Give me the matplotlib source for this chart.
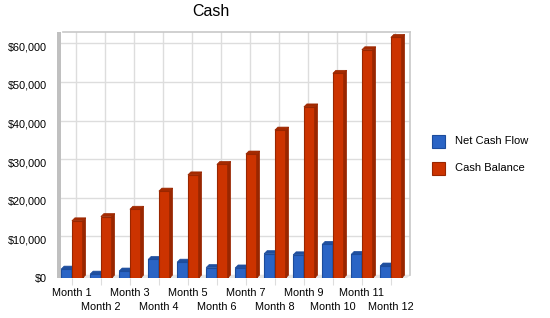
import matplotlib
matplotlib.use("Agg")
import matplotlib.pyplot as plt
from matplotlib.patches import Polygon, Rectangle
from matplotlib.ticker import FuncFormatter

months = ["Month 1", "Month 2", "Month 3", "Month 4", "Month 5", "Month 6",
          "Month 7", "Month 8", "Month 9", "Month 10", "Month 11", "Month 12"]
net_cash_flow = [2300, 1000, 1800, 4800, 4100, 2700, 2600, 6300, 6000, 8700, 6100, 3100]
cash_balance = [14800, 15900, 17800, 22500, 26700, 29400, 32100, 38300, 44300, 53000, 59100, 62300]
yticks = [0, 10000, 20000, 30000, 40000, 50000, 60000]
series_names = ["Net Cash Flow", "Cash Balance"]

plt.rcParams['font.family'] = ['Liberation Sans', 'DejaVu Sans']

W, H = 550, 318
fig = plt.figure(figsize=(W / 100, H / 100), dpi=100)
ax = fig.add_axes([60 / W, 40 / H, 350 / W, 246 / H])

x0, x1 = -0.41, 11.66
y0, y1 = 0, 63700
ax.set_xlim(x0, x1)
ax.set_ylim(y0, y1)

px_x = (x1 - x0) / 350.0
px_y = (y1 - y0) / 246.0
dx, dy = 3 * px_x, 3 * px_y

# grid on back wall (offset)
for v in yticks:
    ax.plot([x0, x1], [v + dy, v + dy], color="#dddddd", lw=1, zorder=0.5)
for i in range(len(months)):
    ax.plot([i + dx * 1.3, i + dx * 1.3], [dy, y1], color="#dddddd", lw=1, zorder=0.5)

# floor
ax.add_patch(Polygon([[x0, 0], [x1 - dx, 0], [x1, dy], [x0 + dx, dy]],
                     closed=True, facecolor="#e6e6e6", edgecolor="none", zorder=0.6))

bw = 0.37
colors = [("#2a64c5", "#1c4c9c", "#1f4f9f"), ("#cc3300", "#992600", "#a52a00")]
for s, (vals, (fc, sc, tc)) in enumerate(zip([net_cash_flow, cash_balance], colors)):
    for i, v in enumerate(vals):
        left = i - bw + s * bw
        right = left + bw
        z = 2 + i * 0.01 + s * 0.001
        ax.add_patch(Rectangle((left, 0), bw, v, facecolor=fc, edgecolor=sc,
                               lw=0.8, zorder=z))
        ax.add_patch(Polygon([[right, 0], [right + dx, dy], [right + dx, v + dy], [right, v]],
                             closed=True, facecolor=sc, edgecolor=sc, lw=0.5, zorder=z))
        ax.add_patch(Polygon([[left, v], [left + dx, v + dy], [right + dx, v + dy], [right, v]],
                             closed=True, facecolor=tc, edgecolor=sc, lw=0.5, zorder=z))

for sp in ax.spines.values():
    sp.set_visible(False)
# top and right border
ax.plot([x0 + dx, x1], [y1, y1], color="#c8c8c8", lw=1.2, zorder=1, clip_on=False)
ax.plot([x1, x1], [dy, y1], color="#c8c8c8", lw=1.2, zorder=1, clip_on=False)
# left grey wall
ax.add_patch(Rectangle((x0 - 3 * px_x, 0), 4 * px_x, y1, facecolor="#c0c0c0",
                       edgecolor="none", zorder=1, clip_on=False))

ax.set_yticks(yticks)
ax.yaxis.set_major_formatter(FuncFormatter(lambda v, p: "${:,.0f}".format(v)))
ax.tick_params(axis="y", length=0, pad=9.5, labelsize=7.8)
ax.set_xticks(range(len(months)))
ax.set_xticklabels(["" for _ in months])
ax.tick_params(axis="x", length=5, color="#dddddd", direction="out")

for i, m in enumerate(months):
    yoff = -15 if i % 2 == 0 else -29
    ax.annotate(m, xy=(i, 0), xycoords="data", xytext=(0, yoff), textcoords="offset pixels",
                ha="center", va="center", fontsize=7.8)

fig.text(211 / W, 1 - 12 / H, "Cash", ha="center", va="center", fontsize=11.5)

# legend
for k, (name, c) in enumerate(zip(series_names, [colors[0], colors[1]])):
    yc = 141 + 27 * k
    fig.patches.append(Rectangle((432 / W, 1 - (yc + 7) / H), 13 / W, 13 / H,
                                 facecolor=c[0], edgecolor=c[1], lw=0.8,
                                 transform=fig.transFigure, figure=fig))
    fig.text(455 / W, 1 - yc / H, name, ha="left", va="center", fontsize=8)

fig.savefig("out.png", dpi=100)
